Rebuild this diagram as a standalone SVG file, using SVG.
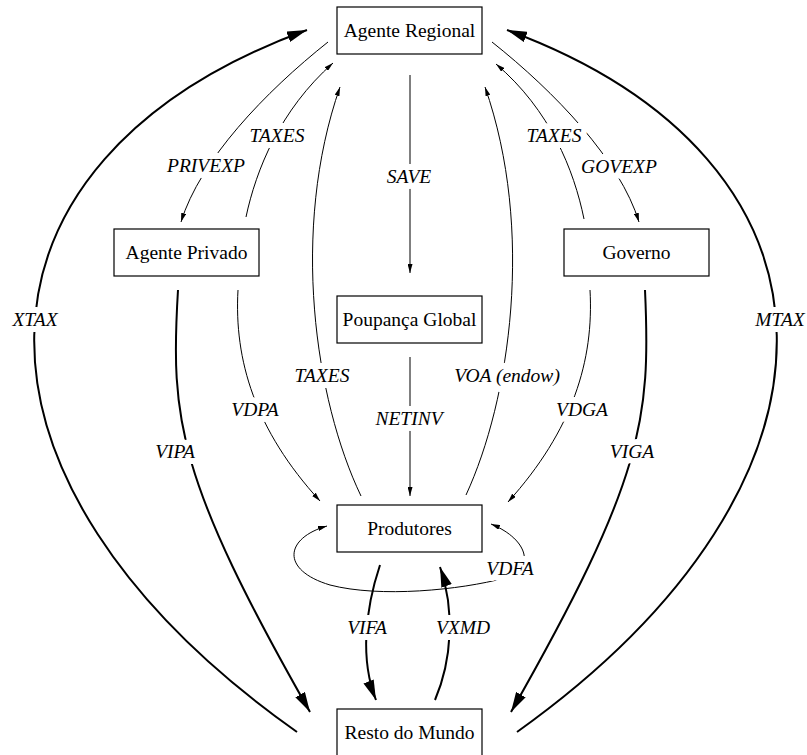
<svg xmlns="http://www.w3.org/2000/svg" width="807" height="755" viewBox="0 0 807 755">
<style>
text{font-family:"Liberation Serif","DejaVu Serif",serif}
.node rect{fill:#fff;stroke:#000;stroke-width:1.2}
.node text{font-size:19.5px;text-anchor:middle;fill:#000}
.e{fill:none;stroke:#000;stroke-width:1}
.thin{marker-end:url(#ah)}
.thick{stroke-width:2;marker-end:url(#ahb)}
.lbl{font-style:italic;font-size:19.5px;text-anchor:middle;fill:#000;stroke:#fff;stroke-width:12;stroke-linejoin:round;paint-order:stroke}
</style>
<defs>
<marker id="ah" viewBox="0 0 9 5" refX="9" refY="2.5" markerWidth="9" markerHeight="5" markerUnits="userSpaceOnUse" orient="auto"><path d="M0,0 L9,2.5 L0,5 z" fill="#000"/></marker>
<marker id="ahs" viewBox="0 0 9 5" refX="9" refY="2.5" markerWidth="9" markerHeight="5" markerUnits="userSpaceOnUse" orient="auto-start-reverse"><path d="M0,0 L9,2.5 L0,5 z" fill="#000"/></marker>
<marker id="ahb" viewBox="0 0 20 11" refX="20" refY="5.5" markerWidth="20" markerHeight="11" markerUnits="userSpaceOnUse" orient="auto"><path d="M0,0 L20,5.5 L0,11 z" fill="#000"/></marker>
</defs>
<rect width="807" height="755" fill="#fff"/>
<g id="edges">
<path class="e thin" d="M410,75 L410,273"/>
<path class="e thin" d="M410,357 L410,496"/>
<path class="e thin" d="M328,42 C265,92 200,160 181,222"/>
<path class="e thin" d="M246,217 C256,170 280,110 333,63"/>
<path class="e thin" d="M492,42 C555,92 620,160 639,222"/>
<path class="e thin" d="M584,219 C574,170 550,110 496,64"/>
<path class="e thin" d="M361,496 C315,400 290,230 340,87"/>
<path class="e thin" d="M466,495 C510,400 535,230 485,87"/>
<path class="e thin" d="M238,290 C234,360 255,430 320,501"/>
<path class="e thin" d="M590,290 C594,360 573,430 508,502"/>
<path class="e thin" style="marker-start:url(#ahs)" d="M327,526 C285,538 280,570 330,585 C380,598 460,590 505,578 C535,570 530,540 491,524"/>
<path class="e thick" d="M178,290 C170,420 178,480 310,712"/>
<path class="e thick" d="M645,290 C651,420 643,480 511,712"/>
<path class="e thick" d="M297,732 C-60,480 -50,160 307,30"/>
<path class="e thick" d="M517,732 C870,480 860,160 507,30"/>
<path class="e thick" d="M380,565 C365,610 360,660 376,700"/>
<path class="e thick" d="M435,700 C452,660 455,610 440,567"/>
<text class="lbl" x="409" y="183">SAVE</text>
<text class="lbl" x="409" y="425">NETINV</text>
<text class="lbl" x="206" y="172">PRIVEXP</text>
<text class="lbl" x="277" y="142">TAXES</text>
<text class="lbl" x="554" y="142">TAXES</text>
<text class="lbl" x="619" y="173">GOVEXP</text>
<text class="lbl" x="322" y="382">TAXES</text>
<text class="lbl" x="507" y="382">VOA (endow)</text>
<text class="lbl" x="255" y="416">VDPA</text>
<text class="lbl" x="582" y="416">VDGA</text>
<text class="lbl" x="35" y="326">XTAX</text>
<text class="lbl" x="780" y="326">MTAX</text>
<text class="lbl" x="175" y="458">VIPA</text>
<text class="lbl" x="632" y="458">VIGA</text>
<text class="lbl" x="510" y="575">VDFA</text>
<text class="lbl" x="367" y="634">VIFA</text>
<text class="lbl" x="463" y="634">VXMD</text>
</g>
<g id="agente-regional" class="node"><rect x="337" y="7" width="145" height="47"/><text x="409.5" y="37">Agente Regional</text></g>
<g id="agente-privado" class="node"><rect x="114" y="229" width="145" height="47"/><text x="186.5" y="259">Agente Privado</text></g>
<g id="governo" class="node"><rect x="564" y="229" width="145" height="47"/><text x="636.5" y="259">Governo</text></g>
<g id="poupanca-global" class="node"><rect x="337" y="296" width="145" height="47"/><text x="409.5" y="326">Poupança Global</text></g>
<g id="produtores" class="node"><rect x="337" y="505" width="145" height="47"/><text x="409.5" y="535">Produtores</text></g>
<g id="resto-do-mundo" class="node"><rect x="337" y="709" width="145" height="47"/><text x="409.5" y="739">Resto do Mundo</text></g>
</svg>
